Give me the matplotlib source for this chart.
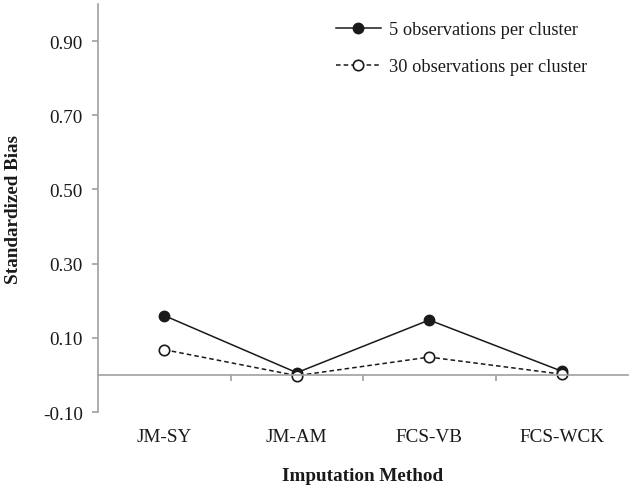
import matplotlib.pyplot as plt

methods = ["JM-SY", "JM-AM", "FCS-VB", "FCS-WCK"]
bias_5 = [0.160, 0.006, 0.148, 0.010]
bias_30 = [0.068, -0.002, 0.048, 0.002]
yticks = [-0.10, 0.10, 0.30, 0.50, 0.70, 0.90]

plt.rcParams['font.family'] = ['Liberation Serif', 'DejaVu Serif']
axis_grey = '#a0a0a0'
ink = '#1a1a1a'
fs = 13.8

fig = plt.figure(figsize=(6.31, 4.89), dpi=100)
ax = fig.add_axes([98 / 631, 1 - 413 / 489, 530 / 631, 408 / 489])

x = list(range(len(methods)))
ax.plot(x, bias_5, '-', color=ink, lw=1.1, marker='o', ms=7.5,
        mfc=ink, mec=ink, label='5 observations per cluster')
ax.plot(x, bias_30, '--', color=ink, lw=1.1, marker='o', ms=7.5,
        mfc='white', mec=ink, mew=1.2, label='30 observations per cluster',
        dashes=(3, 2))

ax.set_xlim(-0.5, 3.5)
ax.set_ylim(-0.10, 1.0)

for s in ['top', 'right']:
    ax.spines[s].set_visible(False)
ax.spines['left'].set_color(axis_grey)
ax.spines['left'].set_linewidth(1.2)
ax.spines['bottom'].set_position(('data', 0))
ax.spines['bottom'].set_color(axis_grey)
ax.spines['bottom'].set_linewidth(1.2)

ax.set_yticks(yticks)
ax.set_yticklabels([f"{v:.2f}" for v in yticks])
ax.tick_params(axis='y', colors=axis_grey, labelcolor=ink, labelsize=fs,
               length=4, width=1.2, pad=7)

# separators between categories sit on the zero line, names hang below
ax.set_xticks([0.5, 1.5, 2.5])
ax.set_xticklabels([])
ax.set_xticks(x, minor=True)
ax.set_xticklabels(methods, minor=True)
ax.tick_params(axis='x', which='major', colors=axis_grey, length=4, width=1.2)
ax.tick_params(axis='x', which='minor', length=0, labelcolor=ink,
               labelsize=fs, pad=38)

ax.set_ylabel('Standardized Bias', fontsize=fs, fontweight='bold', color=ink,
              labelpad=15)
fig.text(0.5 * (98 + 628) / 631, 1 - 477 / 489, 'Imputation Method',
         ha='center', va='center', fontsize=fs, fontweight='bold', color=ink)

ax.legend(loc='upper left', bbox_to_anchor=(0.449, 0.958), frameon=False,
          fontsize=13.2, handlelength=2.45, handletextpad=0.45,
          labelspacing=1.08, borderpad=0, borderaxespad=0, labelcolor=ink)

fig.savefig('out.png', dpi=100)
